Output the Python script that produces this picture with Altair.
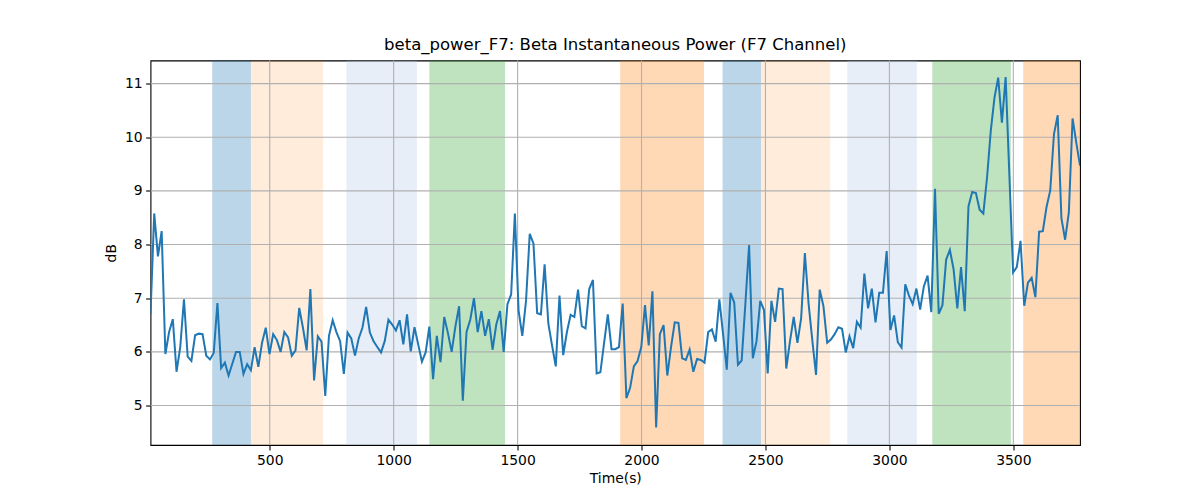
import altair as alt
import pandas as pd

# ---- data ----
t_start = 19.0
t_step = 15.0
power_db = [
    6.70, 8.58, 7.78, 8.25, 5.96, 6.37, 6.61, 5.63, 6.09, 6.98,
    5.91, 5.83, 6.31, 6.34, 6.33, 5.93, 5.86, 5.98, 6.91, 5.70,
    5.80, 5.56, 5.78, 6.00, 6.00, 5.59, 5.77, 5.66, 6.09, 5.72,
    6.17, 6.45, 5.96, 6.33, 6.22, 6.00, 6.37, 6.27, 5.93, 6.03,
    6.82, 6.45, 6.03, 7.17, 5.47, 6.29, 6.19, 5.18, 6.30, 6.59,
    6.37, 6.20, 5.59, 6.36, 6.25, 5.93, 6.25, 6.45, 6.84, 6.36,
    6.20, 6.09, 5.99, 6.20, 6.60, 6.51, 6.40, 6.59, 6.14, 6.70,
    6.01, 6.46, 6.14, 5.82, 5.99, 6.47, 5.49, 6.30, 5.81, 6.65,
    6.35, 6.00, 6.47, 6.85, 5.09, 6.37, 6.60, 7.00, 6.37, 6.76,
    6.30, 6.61, 6.04, 6.51, 6.76, 6.00, 6.89, 7.07, 8.58, 6.77,
    6.30, 6.95, 8.20, 8.02, 6.72, 6.70, 7.63, 6.53, 6.12, 5.73,
    7.05, 5.94, 6.37, 6.69, 6.65, 7.16, 6.48, 6.44, 7.17, 7.34,
    5.60, 5.62, 6.17, 6.70, 6.05, 6.05, 6.09, 6.90, 5.14, 5.33,
    5.73, 5.83, 6.09, 6.87, 6.12, 7.13, 4.59, 6.33, 6.50, 5.56,
    6.09, 6.55, 6.54, 5.88, 5.85, 6.04, 5.63, 5.87, 5.85, 5.80,
    6.37, 6.42, 6.19, 6.98, 6.33, 5.67, 7.10, 6.92, 5.76, 5.84,
    6.90, 7.99, 5.88, 6.20, 6.95, 6.78, 5.60, 6.95, 6.56, 7.18,
    7.17, 5.69, 6.20, 6.65, 6.17, 6.63, 7.84, 6.90, 6.22, 5.57,
    7.16, 6.85, 6.17, 6.23, 6.33, 6.46, 6.43, 5.99, 6.29, 6.07,
    6.56, 6.45, 7.46, 6.81, 7.18, 6.55, 7.10, 7.10, 7.88, 6.41,
    6.68, 6.18, 6.08, 7.26, 7.05, 6.89, 7.18, 6.79, 7.22, 7.42,
    6.74, 9.04, 6.71, 6.87, 7.72, 7.90, 7.54, 6.81, 7.58, 6.76,
    8.71, 8.98, 8.96, 8.65, 8.58, 9.25, 10.12, 10.74, 11.11, 10.27,
    11.12, 9.30, 7.48, 7.58, 8.07, 6.86, 7.29, 7.38, 7.02, 8.24,
    8.25, 8.70, 9.01, 10.06, 10.41, 8.49, 8.09, 8.60, 10.35, 9.90,
    9.47,
]
times = [t_start + i * t_step for i in range(len(power_db))]

span_start = [268, 424, 809, 1144, 1914, 2327, 2482, 2830, 3173, 3540]
span_end = [424, 715, 1094, 1449, 2252, 2482, 2761, 3111, 3490, 3800]
span_color = ["#1f77b4", "#ff7f0e", "#aec7e8", "#2ca02c", "#ff7f0e",
              "#1f77b4", "#ff7f0e", "#aec7e8", "#2ca02c", "#ff7f0e"]
span_alpha = [0.3, 0.15, 0.3, 0.3, 0.3, 0.3, 0.15, 0.3, 0.3, 0.3]

x_ticks = [500, 1000, 1500, 2000, 2500, 3000, 3500]
y_ticks = [5, 6, 7, 8, 9, 10, 11]
x_domain = [times[0], times[-1]]
y_domain = [4.265, 11.43]

line_df = pd.DataFrame({"t": times, "v": power_db})
span_df = pd.DataFrame({"s": span_start, "e": span_end,
                        "c": span_color, "a": span_alpha})
xgrid_df = pd.DataFrame({"gx": x_ticks})
ygrid_df = pd.DataFrame({"gy": y_ticks})

FONT = "DejaVu Sans"
GRID = "#b0b0b0"

xscale = alt.Scale(domain=x_domain, nice=False, zero=False)
yscale = alt.Scale(domain=y_domain, nice=False, zero=False)

xaxis = alt.Axis(values=x_ticks, title="Time(s)", grid=False, format="d")
yaxis = alt.Axis(values=y_ticks, title="dB", grid=False, format="d")

spans = alt.Chart(span_df).mark_rect(clip=True).encode(
    x=alt.X("s:Q", scale=xscale, axis=xaxis),
    x2="e:Q",
    color=alt.Color("c:N", scale=None),
    opacity=alt.Opacity("a:Q", scale=None),
)

xgrid = alt.Chart(xgrid_df).mark_rule(color=GRID, strokeWidth=1.1).encode(
    x=alt.X("gx:Q", scale=xscale, axis=xaxis),
)
ygrid = alt.Chart(ygrid_df).mark_rule(color=GRID, strokeWidth=1.1).encode(
    y=alt.Y("gy:Q", scale=yscale, axis=yaxis),
)

line = alt.Chart(line_df).mark_line(clip=True, color="#1f77b4", strokeWidth=2).encode(
    x=alt.X("t:Q", scale=xscale, axis=xaxis),
    y=alt.Y("v:Q", scale=yscale, axis=yaxis),
)

chart = alt.layer(spans, xgrid, ygrid, line).properties(
    width=929.5,
    height=384.5,
    title=alt.TitleParams(
        "beta_power_F7: Beta Instantaneous Power (F7 Channel)",
        font=FONT, fontSize=16.5, fontWeight="normal", color="black",
        offset=6, anchor="middle",
    ),
    autosize=alt.AutoSizeParams(type="none"),
    padding={"left": 142.5, "top": 52.5, "right": 100, "bottom": 50},
).configure_view(
    stroke="black", strokeWidth=1.1,
).configure_axis(
    domain=False,
    tickColor="black",
    tickSize=4.9,
    tickWidth=1.1,
    labelFont=FONT,
    labelFontSize=13.9,
    labelColor="black",
    labelPadding=3.5,
    titleFont=FONT,
    titleFontSize=13.9,
    titleFontWeight="normal",
    titleColor="black",
).configure_axisX(
    titlePadding=4,
).configure_axisY(
    titlePadding=6,
)

chart.save("out.html", embed_options={"renderer": "svg", "actions": False})
